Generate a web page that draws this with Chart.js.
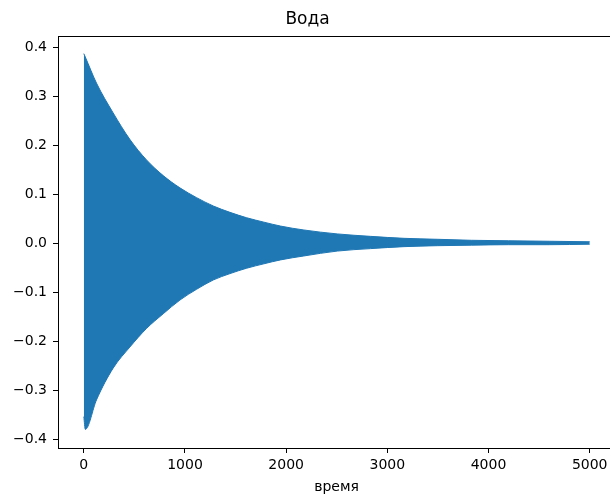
<!DOCTYPE html>
<html>
<head>
<meta charset="utf-8">
<script src="https://cdn.jsdelivr.net/npm/chart.js@4/dist/chart.umd.min.js"></script>
<style>
  html, body { margin: 0; padding: 0; background: #fff; overflow: hidden; }
  #wrap { width: 622px; height: 498px; }
</style>
</head>
<body>
<div id="wrap"><canvas id="VodaChart"></canvas></div>
<script>
// огибающая колебаний
const time = [0, 15, 125, 290, 455, 620, 785, 950, 1115, 1280, 1445, 1610, 1780, 1945, 2175, 2505, 2835, 3165, 3500, 3830, 4200, 4600, 5000];
const upper = [0.387, 0.380, 0.327, 0.266, 0.212, 0.170, 0.138, 0.113, 0.093, 0.076, 0.063, 0.052, 0.043, 0.035, 0.027, 0.019, 0.014, 0.010, 0.008, 0.006, 0.005, 0.004, 0.003];
const lower = [-0.354, -0.380, -0.320, -0.255, -0.212, -0.174, -0.144, -0.116, -0.094, -0.075, -0.062, -0.051, -0.042, -0.034, -0.026, -0.016, -0.011, -0.007, -0.005, -0.004, -0.003, -0.003, -0.002];

const xTicks = [0, 1000, 2000, 3000, 4000, 5000];
const yTicks = [-0.4, -0.3, -0.2, -0.1, 0, 0.1, 0.2, 0.3, 0.4];

const blue = '#1f77b4';
Chart.defaults.font.family = 'DejaVu Sans';
Chart.defaults.color = '#000';

// рамка вокруг области графика (сверху и справа)
const frame = {
  id: 'frame',
  afterDraw(chart) {
    const a = chart.chartArea;
    const ctx = chart.ctx;
    ctx.save();
    ctx.strokeStyle = '#000';
    ctx.lineWidth = 1;
    ctx.strokeRect(a.left + 0.5, a.top + 0.5, a.right - a.left, a.bottom - a.top);
    ctx.restore();
  }
};

const voda = document.getElementById('VodaChart');
new Chart(voda, {
  type: 'line',
  data: {
    datasets: [{
      data: time.map((t, i) => ({ x: t, y: upper[i] })),
      borderColor: blue,
      backgroundColor: blue,
      borderWidth: 1,
      pointRadius: 0,
      cubicInterpolationMode: 'monotone',
      fill: '+1'
    }, {
      data: time.map((t, i) => ({ x: t, y: lower[i] })),
      borderColor: blue,
      backgroundColor: blue,
      borderWidth: 1,
      pointRadius: 0,
      cubicInterpolationMode: 'monotone',
      fill: false
    }]
  },
  options: {
    responsive: true,
    maintainAspectRatio: false,
    animation: false,
    layout: { padding: { left: 0, right: 7, top: 0, bottom: 0 } },
    plugins: {
      legend: { display: false },
      tooltip: { enabled: false },
      title: {
        display: true,
        text: 'Вода',
        font: { size: 17, weight: 'normal' },
        padding: { top: 9, bottom: 6.6 }
      }
    },
    scales: {
      x: {
        type: 'linear',
        min: -255,
        max: 5250,
        afterFit: (s) => { s.height = 50; },
        afterBuildTicks: (s) => { s.ticks = xTicks.map(v => ({ value: v })); },
        grid: { drawOnChartArea: false, drawTicks: true, tickLength: 5, color: '#000' },
        border: { color: '#000' },
        ticks: { font: { size: 14 }, padding: 4, maxRotation: 0, callback: (v) => String(v) },
        title: { display: true, text: 'время', font: { size: 14 }, padding: { top: 0, bottom: 2 } }
      },
      y: {
        min: -0.418,
        max: 0.423,
        afterFit: (s) => { s.width = 58; },
        afterBuildTicks: (s) => { s.ticks = yTicks.map(v => ({ value: v })); },
        grid: { drawOnChartArea: false, drawTicks: true, tickLength: 5, color: '#000' },
        border: { color: '#000' },
        ticks: {
          font: { size: 14 },
          padding: 6,
          callback: (v) => v.toFixed(1).replace('-', '\u2212')
        }
      }
    }
  },
  plugins: [frame]
});
</script>
</body>
</html>
